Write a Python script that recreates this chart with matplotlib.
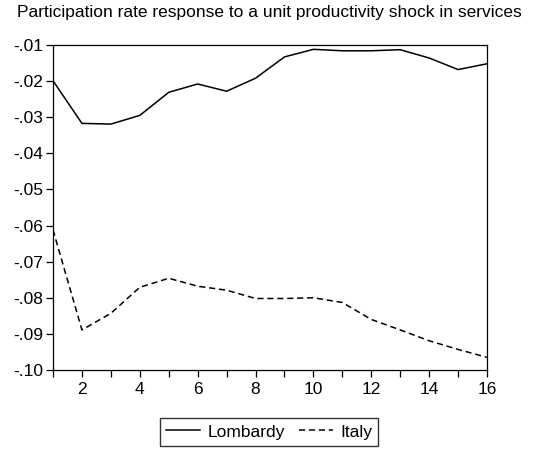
import numpy as np
import matplotlib
matplotlib.use("Agg")
import matplotlib.pyplot as plt
from matplotlib.ticker import FuncFormatter, MultipleLocator

plt.rcParams["font.family"] = ["Liberation Sans", "DejaVu Sans"]

horizon = list(range(1, 17))
lombardy = [-0.0199, -0.0317, -0.0319, -0.0295, -0.0231, -0.0208, -0.0228, -0.0192,
            -0.0133, -0.0112, -0.0116, -0.0116, -0.0113, -0.0136, -0.0168, -0.0152]
italy = [-0.0612, -0.0889, -0.0843, -0.0771, -0.0746, -0.0768, -0.0779, -0.0802,
         -0.0802, -0.0800, -0.0813, -0.0860, -0.0889, -0.0919, -0.0943, -0.0965]

fig = plt.figure(figsize=(5.38, 4.53), dpi=100)
ax = fig.add_axes([53 / 538, 1 - 370 / 453, (487 - 53) / 538, (370 - 45) / 453])

ax.plot(horizon, lombardy, color="black", lw=1.1, label="Lombardy")
ax.plot(horizon, italy, color="black", lw=1.1, ls=(0, (4, 2.5)), label="Italy")

ax.set_xlim(1, 16)
ax.set_ylim(-0.10, -0.01)
ax.xaxis.set_major_locator(MultipleLocator(2))
ax.xaxis.set_minor_locator(MultipleLocator(1))
ax.yaxis.set_major_locator(MultipleLocator(0.01))
ax.yaxis.set_major_formatter(FuncFormatter(lambda v, p: ("-" if v < 0 else "") + f"{abs(v):.2f}".lstrip("0")))
ax.tick_params(axis="both", which="both", direction="out", labelsize=12.5, width=0.9)
ax.tick_params(axis="x", which="major", length=5, pad=4)
ax.tick_params(axis="x", which="minor", length=5)
ax.tick_params(axis="y", length=5, pad=2)
for s in ax.spines.values():
    s.set_linewidth(0.9)

fig.text(0.5, 1 - 12 / 453, "Participation rate response to a unit productivity shock in services",
         ha="center", va="center", fontsize=12.5)

fig.legend(loc="center", bbox_to_anchor=(269 / 538, 1 - 432 / 453), ncol=2, frameon=True,
           fancybox=False, edgecolor="black", fontsize=12.5, handlelength=2.0,
           columnspacing=0.8, borderpad=0.35, handletextpad=0.4)

fig.savefig("out.png", dpi=100)
